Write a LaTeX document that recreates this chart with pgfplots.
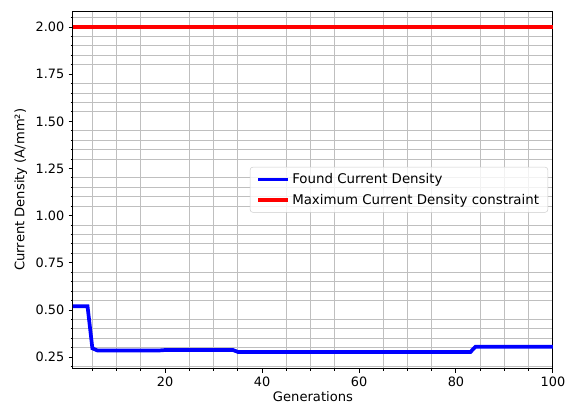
\documentclass[border=0pt]{standalone}
\usepackage{pgfplots}
\pgfplotsset{compat=1.18}
\usepackage{fontspec}
\setmainfont{DejaVu Sans}
\begin{document}
\begin{tikzpicture}
\begin{axis}[
  scale only axis,
  width=388pt, height=289pt,
  xmin=1, xmax=100,
  ymin=0.19, ymax=2.085,
  xtick={20,40,60,80,100},
  minor xtick={5,10,15,25,30,35,45,50,55,65,70,75,85,90,95},
  ytick={0.25,0.5,0.75,1.0,1.25,1.5,1.75,2.0},
  minor ytick={0.2,0.3,0.35,0.4,0.45,0.55,0.6,0.65,0.7,0.8,0.85,0.9,0.95,1.05,1.1,1.15,1.2,1.3,1.35,1.4,1.45,1.55,1.6,1.65,1.7,1.8,1.85,1.9,1.95,2.05},
  yticklabel style={/pgf/number format/fixed,/pgf/number format/precision=2,/pgf/number format/fixed zerofill},
  /pgf/number format/assume math mode=true,
  tick align=outside,
  tick pos=left,
  major tick length=3.5pt,
  minor tick length=2pt,
  tick style={black, line width=0.8pt},
  xmajorgrids=false, ymajorgrids=false,
  xminorgrids=true, yminorgrids=true,
  minor grid style={color=black!25, line width=0.8pt},
  axis line style={line width=0.8pt},
  tick label style={font=\fontsize{10.4}{12}\selectfont},
  label style={font=\fontsize{10.6}{12}\selectfont},
  xlabel={Generations},
  ylabel={Current Density (A/mm²)},
  xlabel style={yshift=3pt},
  ylabel style={yshift=0pt},
  legend style={at={(1,0.5)}, xshift=-4pt, anchor=east, draw=black!20, fill=white, fill opacity=0.8, text opacity=1, rounded corners=2pt, font=\fontsize{10.8}{12}\selectfont, row sep=3pt, inner xsep=5pt, inner ysep=3pt},
  legend cell align=left,
  legend image code/.code={\draw[#1] (0pt,0pt) -- (24pt,0pt);},
]
\addplot[blue, line width=3pt] coordinates {
 (1,0.52) (4,0.52) (5,0.297) (6,0.286) (19,0.286) (20,0.288) (34,0.288) (35,0.278) (83,0.278) (84,0.305) (100,0.305)
};
\addlegendentry{Found Current Density}
\addplot[red, line width=3pt] coordinates {(1,2.0) (100,2.0)};
\addlegendentry{Maximum Current Density constraint}
\end{axis}
\path (current axis.south west) ++(-59pt,-34.8pt) coordinate (bbA);
\path (current axis.north east) ++(14.6pt,8.9pt) coordinate (bbB);
\useasboundingbox (bbA) rectangle (bbB);
\end{tikzpicture}
\end{document}
